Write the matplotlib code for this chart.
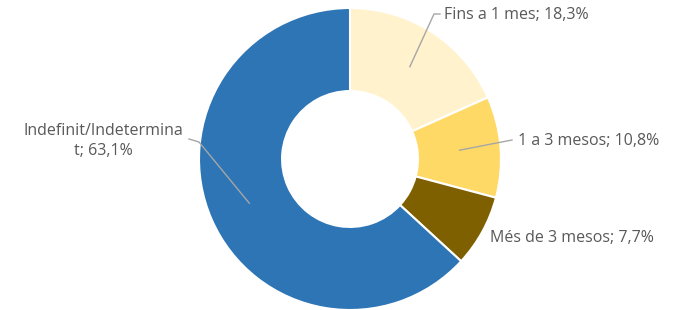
import matplotlib
matplotlib.use("Agg")
import matplotlib.pyplot as plt
import numpy as np

labels = ["Fins a 1 mes; 18,3%", "1 a 3 mesos; 10,8%", "Més de 3 mesos; 7,7%", "Indefinit/Indetermina\nt; 63,1%"]
values = [18.3, 10.8, 7.7, 63.1]
colors = ["#FFF2CC", "#FFD966", "#7F6000", "#2E75B6"]

W, H = 677, 310
fig = plt.figure(figsize=(W/100, H/100), dpi=100)
ax = fig.add_axes([0, 0, 1, 1])

cx, cy, R = 350, 151, 151
wedges, _ = ax.pie(values, colors=colors, startangle=90, counterclock=False,
                   center=(cx, cy), radius=R, frame=True,
                   wedgeprops=dict(width=R*0.55, edgecolor="white", linewidth=1.5))
ax.set_xlim(0, W)
ax.set_ylim(0, H)
ax.set_aspect("equal")
ax.axis("off")

font = dict(family=["Open Sans", "DejaVu Sans"], fontsize=11.5, color="#595959")
lc = "#A6A6A6"
r_in = 110

def anchor(w):
    a = np.deg2rad((w.theta1 + w.theta2) / 2)
    return cx + r_in*np.cos(a), cy + r_in*np.sin(a)

# Fins a 1 mes
x0, y0 = anchor(wedges[0])
ax.plot([x0, 434, 440], [y0, H-14, H-14], color=lc, lw=1)
ax.text(444, H-15, labels[0], ha="left", va="center", **font)
# 1 a 3 mesos
x0, y0 = anchor(wedges[1])
ax.plot([x0, 512], [y0, H-140], color=lc, lw=1)
ax.text(518, H-141, labels[1], ha="left", va="center", **font)
# Més de 3 mesos
ax.text(490, H-238, labels[2], ha="left", va="center", **font)
# Indefinit
x0, y0 = anchor(wedges[3])
ax.plot([x0, 199, 189], [y0, H-142, H-139], color=lc, lw=1)
ax.text(103, H-141, labels[3], ha="center", va="center", linespacing=1.4, **font)

fig.savefig("out.png", dpi=100)
